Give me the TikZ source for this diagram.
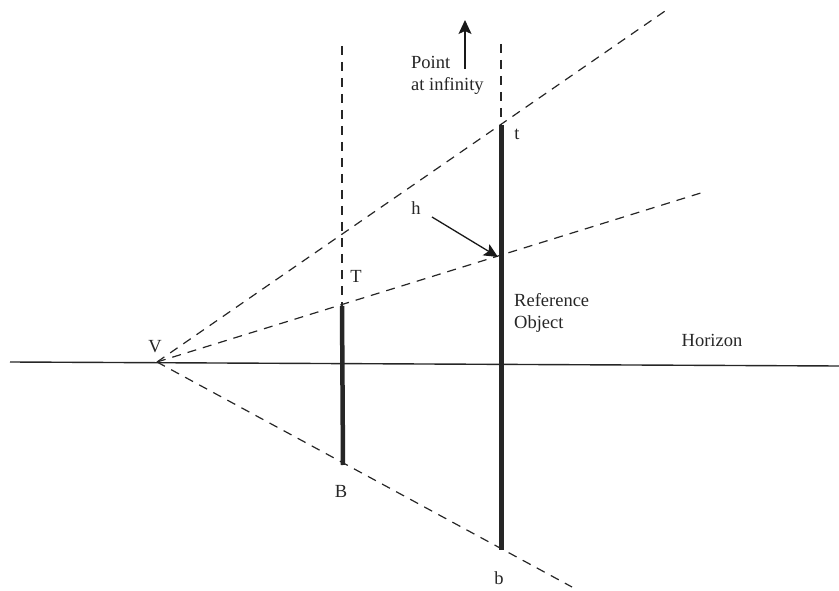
\documentclass[tikz,border=0pt]{standalone}
\usepackage{fontspec}
\setmainfont{Liberation Serif}
\usetikzlibrary{arrows.meta, calc}

\begin{document}
\begin{tikzpicture}[x=1pt, y=-1pt,
  guide/.style={dash pattern=on 9pt off 7pt, line width=1.2pt, color=black!85},
  pole/.style={line width=4.5pt, color=black!85},
  horizon/.style={line width=1.4pt, color=black!85},
  arr/.style={-{Stealth[length=14pt, width=13pt, inset=3pt]}, line width=1.3pt, color=black!90},
  lbl/.style={font=\fontsize{18.5}{22}\selectfont, inner sep=0pt, align=left, text=black!85},
]
\useasboundingbox (0,0) rectangle (839,591);

% Vanishing point and the two objects
\coordinate (V) at (157,362);
\coordinate (T) at (342,306);
\coordinate (B) at (343,465);
\coordinate (t) at (501,125);
\coordinate (b) at (501,550);
\coordinate (h) at (498,257);

% Ends of the construction lines
\coordinate (up) at (668,9);
\coordinate (mid) at (704,192);
\coordinate (low) at (572,587);
\coordinate (Ttop) at (342,46);
\coordinate (ttop) at (501,44);
\coordinate (hl) at (10,362);
\coordinate (hr) at (839,366);

% Horizon
\draw[horizon] (hl) -- (hr);

% Dashed construction lines
\draw[guide] (V) -- (up);
\draw[guide] (V) -- (mid);
\draw[guide] (V) -- (low);
\draw[guide] (Ttop) -- (T);
\draw[guide] (ttop) -- (t);

% Objects
\draw[pole] (T) -- (B);
\draw[pole, line width=5pt] (t) -- (b);

% Labels
\node[lbl] (lV) at (155,347) {V};
\node[lbl] (lT) at (356,276) {T};
\node[lbl] (lB) at (341,491) {B};
\node[lbl] (lt) at (517,134) {t};
\node[lbl] (lb) at (499,578) {b};
\node[lbl] (lh) at (416,208) {h};
\node[lbl, anchor=west] (inf) at (411,75) {Point\\at infinity};
\node[lbl, anchor=west] (ref) at (514,313) {Reference\\Object};
\node[lbl] (hor) at (712,340) {Horizon};

% Arrows
\coordinate (infs) at (465,69);
\coordinate (infe) at (465,20);
\draw[arr] (infs) -- (infe);
\coordinate (hs) at (432,217);
\draw[arr] (hs) -- (h);

\end{tikzpicture}
\end{document}
